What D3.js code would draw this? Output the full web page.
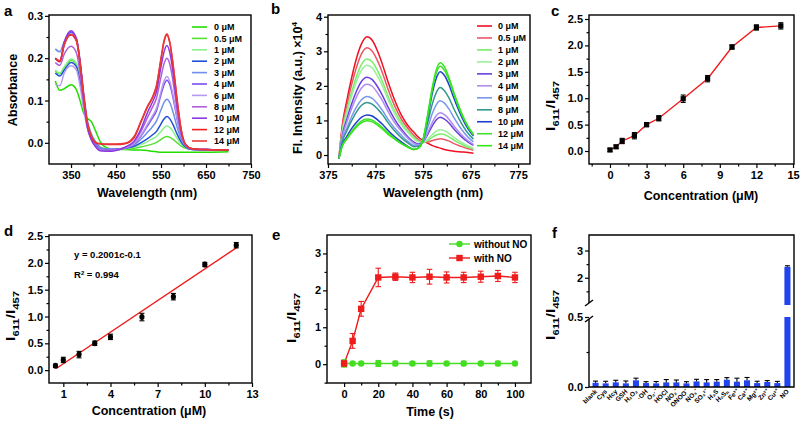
<!DOCTYPE html>
<html><head><meta charset="utf-8">
<script src="https://cdn.jsdelivr.net/npm/d3@7"></script>
<style>body{margin:0;background:#fff}svg{display:block}</style>
</head><body><svg id="c" width="802" height="422"></svg>
<script>
// ---------------- DATA ----------------
// Panel a: absorbance spectra
const absWave = [315,325,335,350,362,370,378,386,395,405,415,430,450,470,490,505,520,530,540,550,557,563,570,578,586,595,605,620,650,700];
const absLabels = ["0 μM","0.5 μM","1 μM","2 μM","3 μM","4 μM","6 μM","8 μM","10 μM","12 μM","14 μM"];
const absColors = ["#22dd00","#55e033","#8cf08c","#2050d8","#6f8fe8","#7a4ef0","#b59af0","#b060d8","#8a3ae0","#f02020","#e83a3a"];
const abs_0   = [0.146,0.124,0.128,0.137,0.125,0.100,0.070,0.058,0.050,0.027,0.002,-0.012,-0.016,-0.016,-0.017,-0.017,-0.018,-0.020,-0.021,-0.022,-0.022,-0.022,-0.022,-0.022,-0.022,-0.022,-0.022,-0.022,-0.022,-0.021];
const abs_05  = [0.170,0.163,0.178,0.195,0.185,0.150,0.095,0.048,0.020,0.002,-0.010,-0.014,-0.015,-0.015,-0.013,-0.010,-0.006,-0.003,0.001,0.008,0.013,0.015,0.013,0.007,0.000,-0.008,-0.013,-0.016,-0.017,-0.017];
const abs_1   = [0.172,0.165,0.180,0.198,0.188,0.152,0.097,0.050,0.021,0.002,-0.010,-0.014,-0.015,-0.014,-0.010,-0.004,0.003,0.009,0.015,0.027,0.036,0.040,0.036,0.024,0.010,-0.003,-0.011,-0.016,-0.017,-0.017];
const abs_2   = [0.165,0.158,0.172,0.190,0.180,0.145,0.092,0.046,0.018,0.000,-0.012,-0.015,-0.015,-0.013,-0.008,0.000,0.010,0.018,0.027,0.045,0.057,0.062,0.056,0.040,0.020,0.002,-0.010,-0.016,-0.017,-0.017];
const abs_3   = [0.222,0.215,0.240,0.260,0.245,0.195,0.120,0.055,0.020,0.000,-0.012,-0.015,-0.014,-0.012,-0.005,0.008,0.025,0.037,0.052,0.078,0.096,0.103,0.094,0.068,0.036,0.008,-0.008,-0.015,-0.016,-0.017];
const abs_4   = [0.200,0.192,0.232,0.262,0.245,0.190,0.110,0.045,0.012,-0.005,-0.016,-0.017,-0.016,-0.012,-0.003,0.015,0.040,0.057,0.076,0.114,0.138,0.148,0.136,0.100,0.055,0.014,-0.006,-0.015,-0.016,-0.017];
const abs_6   = [0.138,0.135,0.165,0.182,0.172,0.135,0.080,0.035,0.008,-0.008,-0.017,-0.018,-0.017,-0.012,-0.002,0.017,0.044,0.062,0.082,0.121,0.147,0.157,0.144,0.106,0.058,0.015,-0.006,-0.015,-0.016,-0.017];
const abs_8   = [0.190,0.183,0.210,0.228,0.212,0.165,0.095,0.038,0.008,-0.008,-0.018,-0.019,-0.017,-0.011,0.002,0.026,0.060,0.082,0.106,0.156,0.188,0.200,0.184,0.136,0.075,0.020,-0.005,-0.015,-0.016,-0.017];
const abs_10  = [0.200,0.192,0.238,0.265,0.246,0.190,0.108,0.040,0.008,-0.010,-0.019,-0.020,-0.018,-0.010,0.004,0.032,0.072,0.094,0.121,0.180,0.216,0.230,0.211,0.156,0.088,0.024,-0.004,-0.015,-0.016,-0.017];
const abs_12  = [0.198,0.192,0.232,0.255,0.240,0.188,0.112,0.048,0.015,0.000,-0.003,-0.004,-0.004,-0.002,0.012,0.048,0.085,0.104,0.133,0.198,0.240,0.255,0.233,0.173,0.099,0.030,-0.005,-0.014,-0.016,-0.017];
const abs_14  = [0.200,0.194,0.234,0.256,0.242,0.190,0.113,0.049,0.016,0.001,-0.002,-0.003,-0.003,-0.001,0.015,0.050,0.087,0.106,0.136,0.200,0.243,0.258,0.236,0.175,0.100,0.030,-0.005,-0.014,-0.016,-0.017];
const absSeries = [abs_0,abs_05,abs_1,abs_2,abs_3,abs_4,abs_6,abs_8,abs_10,abs_12,abs_14];

// Panel b: fluorescence spectra (x10^4)
const flWave = [398,405,415,425,435,445,457,468,480,490,500,515,530,545,555,565,575,585,595,603,611,620,630,640,655,670,681];
const flLabels = absLabels;
const flColors = ["#ee1122","#ee5566","#77ee66","#9cef9c","#6a40e0","#b08ef0","#7a98ee","#2f9a8c","#2040d0","#44dd33","#33e818"];
const fl_0  = [-0.1,0.85,1.6,2.25,2.8,3.2,3.42,3.32,2.98,2.6,2.17,1.6,1.14,0.82,0.67,0.52,0.42,0.34,0.27,0.23,0.2,0.16,0.13,0.11,0.09,0.07,0.05];
const fl_05 = [-0.1,0.78,1.46,2.05,2.54,2.91,3.1,3.0,2.7,2.36,1.95,1.43,1.02,0.74,0.58,0.45,0.38,0.38,0.42,0.45,0.47,0.45,0.4,0.33,0.25,0.18,0.14];
const fl_1  = [-0.1,0.7,1.31,1.83,2.28,2.61,2.78,2.7,2.42,2.11,1.75,1.28,0.92,0.66,0.52,0.4,0.36,0.42,0.52,0.58,0.61,0.59,0.52,0.43,0.32,0.22,0.17];
const fl_2  = [-0.1,0.65,1.22,1.72,2.13,2.44,2.6,2.52,2.26,1.98,1.64,1.2,0.86,0.62,0.48,0.38,0.36,0.46,0.6,0.69,0.73,0.7,0.62,0.51,0.37,0.26,0.2];
const fl_3  = [-0.1,0.56,1.06,1.49,1.85,2.12,2.25,2.18,1.96,1.71,1.42,1.04,0.74,0.5,0.38,0.32,0.38,0.6,0.86,1.02,1.09,1.04,0.92,0.75,0.54,0.37,0.28];
const fl_4  = [-0.1,0.51,0.96,1.35,1.68,1.93,2.05,1.99,1.78,1.56,1.29,0.94,0.68,0.46,0.34,0.3,0.38,0.65,0.96,1.14,1.22,1.17,1.03,0.84,0.6,0.41,0.31];
const fl_6  = [-0.1,0.42,0.79,1.12,1.39,1.59,1.69,1.64,1.47,1.28,1.06,0.78,0.56,0.37,0.28,0.27,0.4,0.8,1.22,1.46,1.57,1.5,1.32,1.08,0.76,0.51,0.38];
const fl_8  = [-0.1,0.38,0.71,1.0,1.25,1.43,1.52,1.47,1.32,1.16,0.96,0.7,0.49,0.33,0.24,0.25,0.42,0.95,1.5,1.81,1.95,1.86,1.64,1.33,0.94,0.62,0.46];
const fl_10 = [-0.1,0.29,0.55,0.77,0.95,1.09,1.16,1.13,1.01,0.88,0.73,0.53,0.37,0.23,0.16,0.2,0.44,1.1,1.82,2.23,2.41,2.3,2.02,1.64,1.14,0.75,0.55];
const fl_12 = [-0.1,0.26,0.49,0.69,0.85,0.98,1.04,1.01,0.9,0.79,0.66,0.48,0.33,0.22,0.16,0.2,0.44,1.15,1.93,2.38,2.57,2.45,2.15,1.75,1.21,0.8,0.58];
const fl_14 = [-0.1,0.25,0.47,0.65,0.81,0.93,0.99,0.96,0.86,0.75,0.62,0.46,0.32,0.21,0.16,0.2,0.45,1.2,2.0,2.47,2.67,2.55,2.22,1.8,1.25,0.82,0.6];
const flSeries = [fl_0,fl_05,fl_1,fl_2,fl_3,fl_4,fl_6,fl_8,fl_10,fl_12,fl_14];

// Panel c: ratio vs concentration
const concC  = [0,0.5,1,2,3,4,6,8,10,12,14];
const ratioC = [0.02,0.08,0.19,0.29,0.50,0.62,0.99,1.37,1.97,2.34,2.37];
const errC   = [0.03,0.03,0.05,0.06,0.04,0.05,0.07,0.06,0.04,0.05,0.06];

// Panel d: linear range
const concD  = [0.5,1,2,3,4,6,8,10,12];
const ratioD = [0.08,0.19,0.29,0.50,0.62,0.99,1.37,1.97,2.33];
const errD   = [0.03,0.05,0.06,0.04,0.05,0.07,0.06,0.04,0.05];
const fitX   = [0.55,12];
const fitY   = [0.03,2.28];

// Panel e: time course
const timeE      = [0,5,10,20,30,40,50,60,70,80,90,100];
const withNO     = [0.02,0.63,1.50,2.35,2.37,2.35,2.37,2.35,2.35,2.37,2.39,2.35];
const withNOErr  = [0.08,0.20,0.20,0.25,0.10,0.14,0.20,0.15,0.14,0.15,0.15,0.14];
const withoutNO  = [0.02,0.02,0.02,0.02,0.02,0.02,0.02,0.02,0.02,0.02,0.02,0.02];
const withoutErr = [0.10,0.03,0.04,0.08,0.06,0.05,0.07,0.04,0.06,0.05,0.06,0.03];

// Panel f: selectivity
const fCats = ["blank","Cys","Hcy","GSH","H₂O₂","·OH","O₂·⁻","HOCl","NO₂⁻","ONOO⁻","NO₃⁻","SO₃²⁻","H₂S","H₂Sₙ","Fe³⁺","Ca²⁺","Mg²⁺","Zn²⁺","Cu²⁺","NO"];
const fVals = [0.030,0.026,0.033,0.026,0.048,0.028,0.026,0.033,0.033,0.026,0.040,0.033,0.038,0.052,0.038,0.048,0.028,0.036,0.028,2.40];
const fErr  = [0.012,0.015,0.015,0.017,0.015,0.010,0.013,0.020,0.017,0.012,0.015,0.020,0.015,0.015,0.025,0.020,0.013,0.010,0.012,0.040];

// ---------------- DRAWING ----------------
const FONT = '"Liberation Sans", Arial, Helvetica, sans-serif';
const svg = d3.select('#c');

function txt(x, y, s, size, anchor) {
  return svg.append('text').attr('x', x).attr('y', y).attr('font-family', FONT)
    .attr('font-weight', 'bold').attr('font-size', size).attr('text-anchor', anchor || 'start').text(s);
}
function frame(x0, y0, x1, y1) {
  svg.append('rect').attr('x', x0).attr('y', y0).attr('width', x1 - x0).attr('height', y1 - y0)
    .attr('fill', 'none').attr('stroke', '#000').attr('stroke-width', 1.4);
}
function styleAxis(g) {
  g.select('.domain').remove();
  g.selectAll('line').attr('stroke', '#000').attr('stroke-width', 1.2);
  g.selectAll('text').attr('font-family', FONT).attr('font-weight', 'bold').attr('font-size', 11).attr('fill', '#000');
}
function bottomAxis(scale, y, majors, minors, fmt) {
  const g = svg.append('g').attr('transform', `translate(0,${y})`)
    .call(d3.axisBottom(scale).tickValues(majors).tickSize(4).tickPadding(3).tickFormat(fmt || (d => d)));
  styleAxis(g);
  if (minors) {
    const m = svg.append('g').attr('transform', `translate(0,${y})`)
      .call(d3.axisBottom(scale).tickValues(minors).tickSize(2.5).tickFormat(''));
    styleAxis(m);
  }
}
function leftAxis(scale, x, majors, minors, fmt) {
  const g = svg.append('g').attr('transform', `translate(${x},0)`)
    .call(d3.axisLeft(scale).tickValues(majors).tickSize(4).tickPadding(2).tickFormat(fmt || (d => d)));
  styleAxis(g);
  if (minors) {
    const m = svg.append('g').attr('transform', `translate(${x},0)`)
      .call(d3.axisLeft(scale).tickValues(minors).tickSize(2.5).tickFormat(''));
    styleAxis(m);
  }
}
function ratioTitle(x, y) {
  const t = svg.append('text').attr('transform', `translate(${x},${y}) rotate(-90)`)
    .attr('font-family', FONT).attr('font-weight', 'bold').attr('font-size', 13.5).attr('text-anchor', 'middle');
  t.append('tspan').text('I');
  t.append('tspan').attr('font-size', 9.5).attr('dy', 3.5).text('611');
  t.append('tspan').attr('dy', -3.5).text('/I');
  t.append('tspan').attr('font-size', 9.5).attr('dy', 3.5).text('457');
  t.attr('textLength', 50).attr('lengthAdjust', 'spacingAndGlyphs');
}
function errorBars(xs, ys, es, xScale, yScale, color, cap, width) {
  const g = svg.append('g').attr('stroke', color).attr('stroke-width', width || 1.1);
  xs.forEach((xv, i) => {
    const x = xScale(xv), y1 = yScale(ys[i] - es[i]), y2 = yScale(ys[i] + es[i]);
    g.append('line').attr('x1', x).attr('x2', x).attr('y1', y1).attr('y2', y2);
    g.append('line').attr('x1', x - cap).attr('x2', x + cap).attr('y1', y1).attr('y2', y1);
    g.append('line').attr('x1', x - cap).attr('x2', x + cap).attr('y1', y2).attr('y2', y2);
  });
}
function panelLetter(x, y, s) { txt(x, y, s, 15); }

// ===== Panel a =====
{
  const x = d3.scaleLinear().domain([301, 750]).range([49, 251]);
  const y = d3.scaleLinear().domain([-0.05, 0.302]).range([164, 15]);
  const line = d3.line().x((d, i) => x(absWave[i])).y(d => y(d)).curve(d3.curveMonotoneX);
  absSeries.forEach((s, k) => {
    svg.append('path').attr('d', line(s)).attr('fill', 'none').attr('stroke', absColors[k]).attr('stroke-width', 1.5);
  });
  frame(49, 15, 251, 164);
  bottomAxis(x, 164, [350, 450, 550, 650, 750], [400, 500, 600, 700]);
  leftAxis(y, 49, [0, 0.1, 0.2, 0.3], [0.05, 0.15, 0.25], d3.format('.1f'));
  absLabels.forEach((l, i) => {
    const yy = 27 + i * 11.4;
    svg.append('line').attr('x1', 192).attr('x2', 207).attr('y1', yy).attr('y2', yy).attr('stroke', absColors[i]).attr('stroke-width', 1.6);
    txt(214, yy + 3.2, l, 9);
  });
  txt(147, 197, 'Wavelength (nm)', 12.5, 'middle');
  svg.append('text').attr('transform', 'translate(17,90) rotate(-90)').attr('font-family', FONT).attr('font-weight', 'bold')
    .attr('font-size', 12.5).attr('text-anchor', 'middle').text('Absorbance');
  panelLetter(4, 16, 'a');
}

// ===== Panel b =====
{
  const x = d3.scaleLinear().domain([375, 800]).range([328, 530]);
  const y = d3.scaleLinear().domain([-0.26, 4.05]).range([164, 15]);
  const line = d3.line().x((d, i) => x(flWave[i])).y(d => y(d)).curve(d3.curveMonotoneX);
  flSeries.forEach((s, k) => {
    svg.append('path').attr('d', line(s)).attr('fill', 'none').attr('stroke', flColors[k]).attr('stroke-width', 1.5);
  });
  frame(328, 15, 530, 164);
  bottomAxis(x, 164, [375, 475, 575, 675, 775], [425, 525, 625, 725]);
  leftAxis(y, 328, [0, 1, 2, 3, 4], [0.5, 1.5, 2.5, 3.5]);
  flLabels.forEach((l, i) => {
    const yy = 26 + i * 11.97;
    svg.append('line').attr('x1', 477).attr('x2', 492).attr('y1', yy).attr('y2', yy).attr('stroke', flColors[i]).attr('stroke-width', 1.6);
    txt(498, yy + 3.2, l, 9);
  });
  txt(433, 197, 'Wavelength (nm)', 12.5, 'middle');
  const t = svg.append('text').attr('transform', 'translate(302,88) rotate(-90)').attr('font-family', FONT).attr('font-weight', 'bold')
    .attr('font-size', 12.5).attr('text-anchor', 'middle');
  t.append('tspan').text('Fl. Intensity (a.u.) ×10');
  t.append('tspan').attr('font-size', 8).attr('dy', -5).text('4');
  panelLetter(271, 14, 'b');
}

// ===== Panel c =====
{
  const x = d3.scaleLinear().domain([-1.72, 15.08]).range([589, 794]);
  const y = d3.scaleLinear().domain([-0.246, 2.576]).range([164, 15]);
  const line = d3.line().x((d, i) => x(concC[i])).y(d => y(d));
  svg.append('path').attr('d', line(ratioC)).attr('fill', 'none').attr('stroke', '#ee1c1c').attr('stroke-width', 1.4);
  errorBars(concC, ratioC, errC, x, y, '#000', 2.5, 1.1);
  svg.append('g').selectAll('rect').data(ratioC).join('rect')
    .attr('x', (d, i) => x(concC[i]) - 2.6).attr('y', d => y(d) - 2.6).attr('width', 5.2).attr('height', 5.2).attr('fill', '#000');
  frame(589, 15, 794, 164);
  bottomAxis(x, 164, [0, 3, 6, 9, 12, 15], [-1.5, 1.5, 4.5, 7.5, 10.5, 13.5]);
  leftAxis(y, 589, [0, 0.5, 1, 1.5, 2, 2.5], [0.25, 0.75, 1.25, 1.75, 2.25], d3.format('.1f'));
  txt(701, 200, 'Concentration (μM)', 12.5, 'middle');
  ratioTitle(555, 106);
  panelLetter(551, 16, 'c');
}

// ===== Panel d =====
{
  const x = d3.scaleLinear().domain([0.09, 13]).range([49, 252]);
  const y = d3.scaleLinear().domain([-0.24, 2.52]).range([383, 235]);
  svg.append('line').attr('x1', x(fitX[0])).attr('x2', x(fitX[1])).attr('y1', y(fitY[0])).attr('y2', y(fitY[1]))
    .attr('stroke', '#ee1c1c').attr('stroke-width', 1.4);
  errorBars(concD, ratioD, errD, x, y, '#000', 2.5, 1.1);
  svg.append('g').selectAll('ellipse').data(ratioD).join('ellipse')
    .attr('cx', (d, i) => x(concD[i])).attr('cy', d => y(d)).attr('rx', 2.6).attr('ry', 3).attr('fill', '#000');
  frame(49, 235, 252, 383);
  bottomAxis(x, 383, [1, 4, 7, 10, 13], [2.5, 5.5, 8.5, 11.5]);
  leftAxis(y, 49, [0, 0.5, 1, 1.5, 2, 2.5], [0.25, 0.75, 1.25, 1.75, 2.25], d3.format('.1f'));
  txt(74, 258, 'y = 0.2001c-0.1', 9.5);
  const r = txt(74, 278, 'R', 9.5);
  r.append('tspan').attr('font-size', 6).attr('dy', -3.5).text('2');
  r.append('tspan').attr('dy', 3.5).text(' = 0.994');
  txt(149, 415, 'Concentration (μM)', 12.5, 'middle');
  ratioTitle(15, 316);
  panelLetter(4, 236, 'd');
}

// ===== Panel e =====
{
  const x = d3.scaleLinear().domain([-10, 109.4]).range([327, 531]);
  const y = d3.scaleLinear().domain([-0.51, 3.5]).range([383, 235]);
  const line = d3.line().x((d, i) => x(timeE[i])).y(d => y(d));
  svg.append('path').attr('d', line(withoutNO)).attr('fill', 'none').attr('stroke', '#44dd22').attr('stroke-width', 1.4);
  svg.append('path').attr('d', line(withNO)).attr('fill', 'none').attr('stroke', '#ee1c1c').attr('stroke-width', 1.4);
  errorBars(timeE, withoutNO, withoutErr, x, y, '#44dd22', 2.8, 1.1);
  errorBars(timeE, withNO, withNOErr, x, y, '#ee1c1c', 2.8, 1.1);
  svg.append('g').selectAll('circle').data(withoutNO).join('circle')
    .attr('cx', (d, i) => x(timeE[i])).attr('cy', d => y(d)).attr('r', 3.2).attr('fill', '#44dd22');
  svg.append('g').selectAll('rect').data(withNO).join('rect')
    .attr('x', (d, i) => x(timeE[i]) - 3.2).attr('y', d => y(d) - 3.2).attr('width', 6.4).attr('height', 6.4).attr('fill', '#ee1c1c');
  frame(327, 235, 531, 383);
  bottomAxis(x, 383, [0, 20, 40, 60, 80, 100], [10, 30, 50, 70, 90]);
  leftAxis(y, 327, [0, 1, 2, 3], [-0.5, 0.5, 1.5, 2.5]);
  // legend
  svg.append('line').attr('x1', 449).attr('x2', 470).attr('y1', 244).attr('y2', 244).attr('stroke', '#44dd22').attr('stroke-width', 1.4);
  svg.append('circle').attr('cx', 459.5).attr('cy', 244).attr('r', 3.2).attr('fill', '#44dd22');
  txt(474, 248, 'without NO', 10);
  svg.append('line').attr('x1', 449).attr('x2', 470).attr('y1', 258).attr('y2', 258).attr('stroke', '#ee1c1c').attr('stroke-width', 1.4);
  svg.append('rect').attr('x', 456.3).attr('y', 254.8).attr('width', 6.4).attr('height', 6.4).attr('fill', '#ee1c1c');
  txt(474, 262, 'with NO', 10);
  txt(430, 416, 'Time (s)', 12.5, 'middle');
  ratioTitle(296, 318);
  panelLetter(272, 240, 'e');
}

// ===== Panel f =====
{
  const x = d3.scaleBand().domain(fCats).range([589, 794]).paddingInner(0.4).paddingOuter(0.35);
  const yL = d3.scaleLinear().domain([0, 0.5]).range([387, 317]);
  const yU = d3.scaleLinear().domain([1, 3.57]).range([305, 235]);
  const blue = '#2244ee';
  const bw = x.bandwidth();
  fCats.forEach((c, i) => {
    const v = fVals[i], e = fErr[i], cx = x(c) + bw / 2;
    let topY;
    if (v <= 0.5) {
      svg.append('rect').attr('x', x(c)).attr('y', yL(v)).attr('width', bw).attr('height', yL(0) - yL(v)).attr('fill', blue);
      topY = yL(v + e);
      svg.append('line').attr('x1', cx).attr('x2', cx).attr('y1', yL(v)).attr('y2', topY).attr('stroke', '#000').attr('stroke-width', 1.1);
    } else {
      svg.append('rect').attr('x', x(c)).attr('y', yL(0.5)).attr('width', bw).attr('height', yL(0) - yL(0.5)).attr('fill', blue);
      svg.append('rect').attr('x', x(c)).attr('y', yU(v)).attr('width', bw).attr('height', yU(1) - yU(v)).attr('fill', blue);
      topY = yU(v + e);
      svg.append('line').attr('x1', cx).attr('x2', cx).attr('y1', yU(v)).attr('y2', topY).attr('stroke', '#000').attr('stroke-width', 1.1);
    }
    svg.append('line').attr('x1', cx - 2.5).attr('x2', cx + 2.5).attr('y1', topY).attr('y2', topY).attr('stroke', '#000').attr('stroke-width', 1.1);
    svg.append('text').attr('transform', `translate(${cx + 2},${392}) rotate(-45)`).attr('font-family', FONT)
      .attr('font-weight', 'bold').attr('font-size', 6.5).attr('text-anchor', 'end').text(c);
  });
  // frame with broken left axis
  const fr = svg.append('g').attr('stroke', '#000').attr('stroke-width', 1.4).attr('fill', 'none');
  fr.append('path').attr('d', `M589,303 L589,235 L794,235 L794,387 L589,387 L589,319`);
  fr.append('line').attr('x1', 585).attr('x2', 593).attr('y1', 306).attr('y2', 300);
  fr.append('line').attr('x1', 585).attr('x2', 593).attr('y1', 322).attr('y2', 316);
  const bt = svg.append('g').attr('transform', 'translate(0,387)')
    .call(d3.axisBottom(x).tickSize(0).tickFormat(''));
  styleAxis(bt);
  leftAxis(yL, 589, [0, 0.5], [0.25], d3.format('.1f'));
  leftAxis(yU, 589, [2, 3], [1.5, 2.5]);
  ratioTitle(555, 315);
  panelLetter(552, 238, 'f');
}
</script></body></html>
